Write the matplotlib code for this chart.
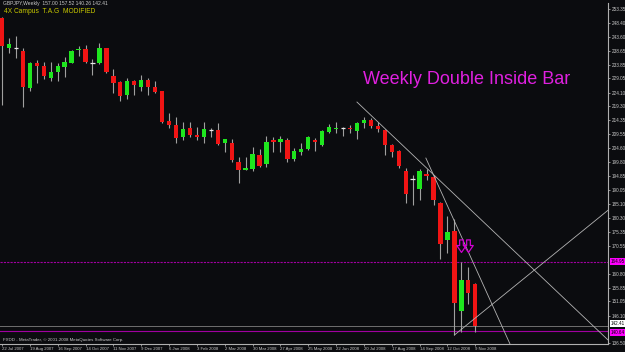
import matplotlib
matplotlib.use("Agg")
import matplotlib.pyplot as plt
import matplotlib.transforms as mtransforms
from matplotlib.path import Path

plt.rcParams['font.family'] = ['Liberation Sans', 'DejaVu Sans']

# ---- data (weekly GBPJPY candles) ----
opens = [250.2, 239.6, 239.6, 238.8, 225.8, 234.5, 233.3, 229.1, 231.2, 233.2,
         234.6, 238.9, 239.2, 234.4, 234.4, 239.6, 229.9, 227.7, 223.2, 228.0,
         226.2, 228.5, 226.2, 224.6, 214.0, 212.7, 208.6, 211.6, 209.3, 208.7,
         210.9, 211.0, 206.3, 206.5, 199.8, 196.9, 197.4, 202.4, 199.1, 207.5,
         206.8, 207.5, 200.8, 203.4, 204.2, 207.4, 205.8, 210.4, 211.4, 211.6,
         211.6, 210.8, 213.4, 214.5, 212.4, 211.0, 205.9, 203.8, 196.7, 193.8,
         190.3, 195.6, 194.7, 185.4, 172.5, 175.7, 147.7, 158.5, 157.00]
highs = [250.6, 243.1, 243.9, 239.6, 234.9, 235.5, 234.7, 234.7, 234.3, 236.4,
         239.0, 240.4, 240.8, 235.9, 241.3, 239.7, 232.3, 228.2, 229.1, 228.5,
         230.2, 229.1, 228.2, 224.8, 217.0, 215.6, 213.9, 213.7, 212.0, 213.9,
         211.7, 213.4, 208.0, 208.0, 201.7, 201.7, 205.0, 204.4, 208.9, 208.4,
         208.9, 208.2, 204.6, 206.4, 208.9, 208.2, 211.0, 213.0, 213.7, 212.0,
         212.8, 213.8, 215.7, 215.1, 213.7, 211.3, 206.1, 204.0, 197.6, 195.3,
         197.3, 197.3, 195.3, 185.9, 180.9, 179.8, 164.9, 163.0, 157.52]
lows = [219.8, 237.8, 236.3, 219.2, 224.8, 227.4, 229.0, 228.2, 228.2, 229.7,
        234.4, 236.9, 234.6, 230.3, 234.0, 231.0, 223.9, 221.2, 221.8, 223.2,
        224.8, 223.3, 224.1, 213.4, 211.6, 206.5, 207.5, 208.6, 207.5, 206.6,
        208.7, 205.8, 203.3, 199.9, 192.6, 196.9, 196.8, 198.0, 198.2, 203.4,
        203.3, 199.7, 200.2, 202.3, 204.0, 203.6, 205.4, 209.8, 210.1, 208.9,
        209.8, 207.8, 211.6, 211.8, 210.4, 202.3, 201.5, 197.6, 185.5, 184.7,
        186.5, 193.5, 184.8, 165.8, 168.1, 139.3, 140.5, 150.1, 140.26]
closes = [240.4, 241.0, 239.6, 226.2, 234.4, 233.3, 229.9, 231.2, 233.3, 234.8,
          238.7, 239.2, 234.9, 234.4, 239.6, 231.2, 227.6, 223.0, 228.3, 226.8,
          228.5, 226.2, 224.3, 213.7, 212.9, 208.3, 211.5, 209.3, 208.7, 211.4,
          210.9, 206.2, 207.7, 200.5, 196.9, 197.8, 202.5, 198.4, 206.8, 206.8,
          207.9, 200.8, 203.7, 204.3, 208.6, 206.7, 210.7, 211.9, 211.6, 211.6,
          211.3, 213.6, 214.5, 212.4, 211.2, 205.7, 203.4, 198.4, 188.8, 193.8,
          196.8, 195.0, 186.5, 171.0, 175.4, 150.4, 158.6, 153.9, 142.41]

date_labels = ["22 Jul 2007", "19 Aug 2007", "16 Sep 2007", "14 Oct 2007",
               "11 Nov 2007", "9 Dec 2007", "6 Jan 2008", "3 Feb 2008",
               "2 Mar 2008", "30 Mar 2008", "27 Apr 2008", "25 May 2008",
               "22 Jun 2008", "20 Jul 2008", "17 Aug 2008", "14 Sep 2008",
               "12 Oct 2008", "9 Nov 2008"]
date_idx = [0, 4, 8, 12, 16, 20, 24, 28, 32, 36, 40, 44, 48, 52, 56, 60, 64, 68]

price_ticks = [253.35, 248.40, 243.60, 238.65, 233.85, 229.05, 224.10, 219.30,
               214.35, 209.55, 204.60, 199.80, 194.85, 190.05, 185.10, 180.30,
               175.35, 170.55, 160.80, 155.85, 151.05, 146.10, 136.50]

# trend lines: (bar index, price) endpoints
trend1 = ([51.0, 87.1], [220.8, 137.5])
trend2 = ([60.9, 73.0], [201.2, 136.1])
trend3 = ([65.0, 87.1], [139.3, 183.0])

hline_level = 164.95
bid_level = 142.41
low_line_level = 140.64
arrow_idx = [66, 67]
arrow_price = [170.6, 170.6]

title = "GBPJPY,Weekly  157.00 157.52 140.26 142.41"

# ---- drawing ----
BG = '#0b0c0f'
UP = '#1ee61e'
DN = '#f01414'
WICK = '#a0a0a0'
TXT = '#c8c8c8'

fig = plt.figure(figsize=(6.25, 3.52), dpi=100, facecolor=BG)
ax = fig.add_axes([0.0, 0.0227, 0.9728, 0.9688], facecolor=BG)

n = len(opens)
xs = list(range(n))
ax.vlines(xs, lows, highs, color=WICK, linewidth=0.8, zorder=2)
for i in xs:
    o, c = opens[i], closes[i]
    if abs(c - o) < 0.05:
        ax.hlines(o, i - 0.32, i + 0.32, color='#e8e8e8', linewidth=0.9, zorder=3)
        continue
    col = UP if c > o else DN
    bottom = min(o, c)
    h = max(abs(c - o), 0.35)
    ax.bar(i, h, bottom=bottom, width=0.62, color=col, edgecolor='none', zorder=3)

# trend lines
for tx, ty in (trend1, trend2, trend3):
    ax.plot(tx, ty, color='#b4b4b4', linewidth=0.6, zorder=4)

# horizontal lines
ax.axhline(hline_level, color='#a000a0', linewidth=0.8, linestyle=(0, (2, 1)), zorder=1)
ax.axhline(bid_level, color='#707070', linewidth=0.7, zorder=1)
ax.axhline(low_line_level, color='#a000a0', linewidth=0.8, zorder=1)

# hollow down-arrow markers
arrow_path = Path([(-0.28, 1.0), (0.28, 1.0), (0.28, 0.15), (0.72, 0.15), (0.0, -0.9),
                   (-0.72, 0.15), (-0.28, 0.15), (-0.28, 1.0)],
                  [Path.MOVETO] + [Path.LINETO] * 6 + [Path.CLOSEPOLY])
ax.plot(arrow_idx, arrow_price, linestyle='none', marker=arrow_path, markersize=9.5,
        markerfacecolor='none', markeredgecolor='#d000d0', markeredgewidth=0.9, zorder=5)

# big label
ax.text(363 / 608, 1 - (80 - 3) / 341, "Weekly Double Inside Bar", transform=ax.transAxes,
        color='#e020e0', fontsize=13, ha='left', va='center')

ax.set_xlim(-0.29, 87.07)
ax.set_ylim(136.15, 255.45)

# axes / spines
for s in ['left', 'top']:
    ax.spines[s].set_visible(False)
for s in ['right', 'bottom']:
    ax.spines[s].set_color('#b0b0b0')
    ax.spines[s].set_linewidth(0.8)

ax.yaxis.tick_right()
ax.set_yticks(price_ticks)
ax.set_yticklabels([f"{p:.2f}" for p in price_ticks])
ax.tick_params(axis='y', colors=TXT, labelsize=3.3, length=1.5, width=0.5, pad=1.5)

ax.set_xticks(date_idx)
ax.set_xticklabels(date_labels)
ax.tick_params(axis='x', colors=TXT, labelsize=3.1, length=1.5, width=0.5, pad=0.8)
for lab in ax.get_xticklabels():
    lab.set_ha('left')

# right-scale boxes
trans = mtransforms.blended_transform_factory(ax.transAxes, ax.transData)
ax.text(1.004, hline_level, f"{hline_level:.2f}", transform=trans, fontsize=3.3,
        color='#000000', va='center', ha='left',
        bbox=dict(boxstyle='square,pad=0.15', facecolor='#ff00ff', edgecolor='none'),
        clip_on=False)
ax.text(1.004, bid_level + 0.9, f"{bid_level:.2f}", transform=trans, fontsize=3.3,
        color='#000000', va='center', ha='left',
        bbox=dict(boxstyle='square,pad=0.15', facecolor='#ffffff', edgecolor='none'),
        clip_on=False)
ax.text(1.004, low_line_level - 0.4, f"{low_line_level:.2f}", transform=trans, fontsize=3.3,
        color='#000000', va='center', ha='left',
        bbox=dict(boxstyle='square,pad=0.15', facecolor='#ff00ff', edgecolor='none'),
        clip_on=False)

# header texts
fig.text(3 / 625, 1 - 3.5 / 352, title, color=TXT, fontsize=3.6, ha='left', va='center')
fig.text(4 / 625, 1 - 11.5 / 352, "4X Campus  T.A.G  MODIFIED", color='#c8c800',
         fontsize=4.8, ha='left', va='center')
fig.text(3 / 625, 1 - 339.5 / 352, "FXDD - MetaTrader, \u00a9 2001-2008 MetaQuotes Software Corp.",
         color=TXT, fontsize=3.2, ha='left', va='center')

fig.savefig("out.png", dpi=100, facecolor=BG)
